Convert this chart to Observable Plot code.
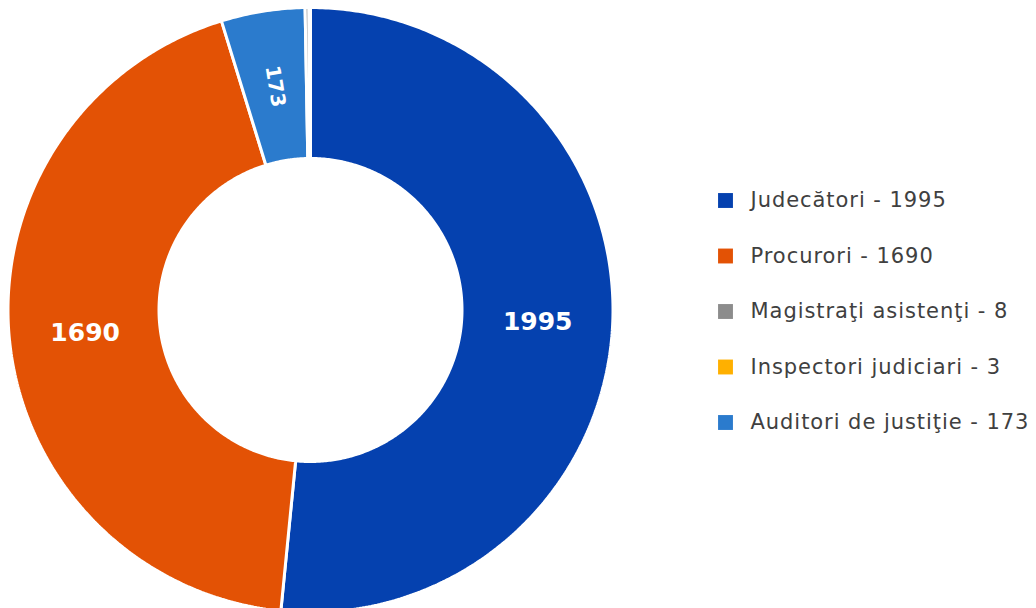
<!DOCTYPE html>
<html>
<head>
<meta charset="utf-8">
<script src="https://cdn.jsdelivr.net/npm/d3@7"></script>
<script src="https://cdn.jsdelivr.net/npm/@observablehq/plot@0.6"></script>
<style>
  html, body { margin: 0; padding: 0; background: #fff; }
  #chart svg { display: block; }
</style>
</head>
<body>
<div id="chart"></div>
<script>
// Data (slice order as drawn, clockwise from 12 o'clock)
const sliceNames = ["Judecători", "Procurori", "Auditori de justiţie", "Magistraţi asistenţi", "Inspectori judiciari"];
const sliceValues = [1995, 1690, 173, 8, 3];
const sliceColors = ["#0541AF", "#E35205", "#2B7BCD", "#8C8C8C", "#FFB000"];

// Legend order
const legendNames = ["Judecători", "Procurori", "Magistraţi asistenţi", "Inspectori judiciari", "Auditori de justiţie"];
const legendValues = [1995, 1690, 8, 3, 173];

// Layout
const W = 1036, H = 608;
const cx = 310.5, cy = 310;
const rOuter = 302.5, rInner = 151.5, rLabel = 227;
const legendX = 725, legendTextX = 750, legendY0 = 200, legendStep = 55.5;

const total = d3.sum(sliceValues);
const toAngle = v => (v / total) * 2 * Math.PI;

const arcRows = [];
const labelRows = [];
let start = 0;
sliceNames.forEach((name, k) => {
  const a0 = start, a1 = start + toAngle(sliceValues[k]);
  const n = Math.max(2, Math.ceil((a1 - a0) / 0.01));
  for (let i = 0; i <= n; i++) {
    const a = a0 + (a1 - a0) * i / n;
    arcRows.push({
      name,
      x1: cx + rOuter * Math.sin(a), y1: cy - rOuter * Math.cos(a),
      x2: cx + rInner * Math.sin(a), y2: cy - rInner * Math.cos(a)
    });
  }
  const mid = (a0 + a1) / 2;
  const frac = sliceValues[k] / total;
  if (sliceValues[k] >= 100) {
    labelRows.push({
      text: String(sliceValues[k]),
      x: cx + rLabel * Math.sin(mid),
      y: cy - rLabel * Math.cos(mid),
      rotate: frac < 0.1 ? (mid * 180 / Math.PI) - 270 : 0,
      size: frac < 0.1 ? 20 : 25
    });
  }
  start = a1;
});

const legendRows = legendNames.map((name, i) => ({
  name,
  label: `${name} - ${legendValues[i]}`,
  y: legendY0 + i * legendStep
}));

const chart = Plot.plot({
  width: W,
  height: H,
  margin: 0,
  x: { domain: [0, W], range: [0, W], axis: null },
  y: { domain: [0, H], range: [0, H], axis: null },
  color: { type: "ordinal", domain: sliceNames, range: sliceColors },
  style: { background: "#ffffff" },
  marks: [
    Plot.area(arcRows, {
      x1: "x1", y1: "y1", x2: "x2", y2: "y2",
      z: "name", fill: "name",
      stroke: "white", strokeWidth: 3, strokeLinejoin: "miter"
    }),
    Plot.text(labelRows.filter(d => d.size === 25), {
      x: "x", y: "y", text: "text", rotate: "rotate",
      fill: "white", fontWeight: "bold", fontSize: 25,
      fontFamily: "DejaVu Sans"
    }),
    Plot.text(labelRows.filter(d => d.size !== 25), {
      x: "x", y: "y", text: "text", rotate: "rotate",
      fill: "white", fontWeight: "bold", fontSize: 20,
      fontFamily: "DejaVu Sans"
    }),
    Plot.dot(legendRows, {
      x: () => legendX, y: "y", fill: "name",
      symbol: "square", r: 8.4, stroke: null
    }),
    Plot.text(legendRows, {
      x: () => legendTextX, y: "y", text: "label",
      textAnchor: "start", fill: "#404040", fontSize: 21,
      fontFamily: "DejaVu Sans"
    })
  ]
});

// slightly widen the legend lettering
const textGroups = chart.querySelectorAll('g[aria-label="text"]');
textGroups[textGroups.length - 1].setAttribute("letter-spacing", "0.95px");

document.getElementById("chart").appendChild(chart);
</script>
</body>
</html>
